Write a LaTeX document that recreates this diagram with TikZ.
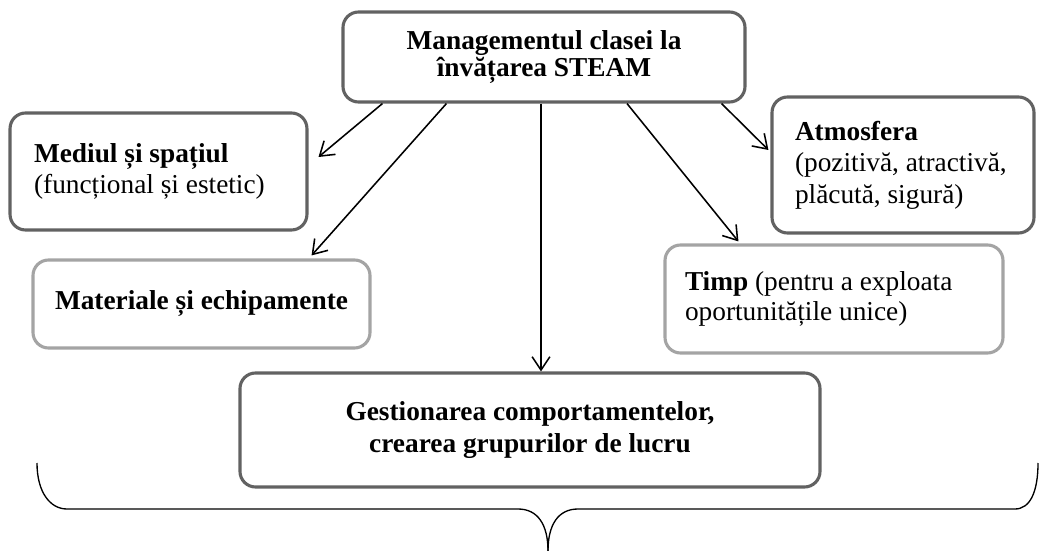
\documentclass[tikz,border=0pt]{standalone}
\usepackage{fontspec}
\setmainfont{Liberation Serif}
\usepackage{tikz}
\usetikzlibrary{arrows.meta,calc}
\definecolor{framedark}{RGB}{98,98,98}
\definecolor{framelight}{RGB}{164,164,164}
\tikzset{
  font={\fontsize{12.3pt}{13.8pt}\selectfont},
  box/.style={draw, rounded corners=7pt, line width=1.4pt, fill=white, inner sep=0pt},
  darkbox/.style={box, draw=framedark},
  lightbox/.style={box, draw=framelight},
  conn/.style={-{Straight Barb[length=6pt,width=8pt]}, line width=0.7pt},
  brace/.style={line width=0.6pt}}

\begin{document}
\begin{tikzpicture}[x=0.45pt,y=-0.45pt]
\useasboundingbox (0,0) rectangle (1039,551);
\node[darkbox, minimum width=180.9pt, minimum height=40.5pt, align=center,
  font={\fontsize{12.3pt}{12.4pt}\selectfont\bfseries}] (top) at (544,57)
  {Managementul clasei la\\învățarea STEAM};
\node[darkbox, text width=112pt, inner xsep=10.8pt, minimum height=52.65pt, align=flush left] (mediu) at (158.5,171.5)
  {\textbf{Mediul și spațiul}\\(funcțional și estetic)};
\node[lightbox, minimum width=151.65pt, minimum height=39.6pt] (mat) at (201.5,304)
  {\textbf{Materiale și echipamente}};
\node[darkbox, text width=97.2pt, inner xsep=10.35pt, minimum height=61.2pt, align=flush left,
  font={\fontsize{12.3pt}{14.2pt}\selectfont}] (atm) at (903,165)
  {\textbf{Atmosfera}\\(pozitivă, atractivă,\\plăcută, sigură)};
\node[lightbox, text width=134.1pt, inner xsep=9pt, minimum height=48.6pt, align=flush left] (timp) at (834,299)
  {\textbf{Timp} (pentru a exploata\\oportunitățile unice)};
\node[darkbox, minimum width=261pt, minimum height=51.3pt, align=center,
  font={\fontsize{12.3pt}{14pt}\selectfont\bfseries}] (gest) at (530,430)
  {Gestionarea comportamentelor,\\crearea grupurilor de lucru};

\coordinate (s1) at ($(top.south west)+(41,0)$);
\coordinate (s2) at ($(top.south west)+(105,0)$);
\coordinate (s3) at ($(top.south)+(-3,0)$);
\coordinate (s4) at ($(top.south)+(83,0)$);
\coordinate (s5) at ($(top.south east)+(-25,0)$);
\draw[conn] (s1) -- ($(mediu.east)+(10,-14.5)$);
\draw[conn] (s2) -- ($(mat.north east)+(-60,-3)$);
\draw[conn] (s3) -- (s3 |- gest.north);
\draw[conn] (s4) -- ($(timp.north west)+(75,-2)$);
\draw[conn] (s5) -- ($(atm.west)+(-2,-15)$);

\draw[brace] (37,463) .. controls (37,492) and (50,509) .. (67,509) -- (518,509)
  .. controls (538,509) and (548,525) .. (548,551);
\draw[brace] (548,551) .. controls (548,525) and (558,509) .. (578,509) -- (1015,509)
  .. controls (1030,509) and (1038,492) .. (1038,463);
\end{tikzpicture}
\end{document}
